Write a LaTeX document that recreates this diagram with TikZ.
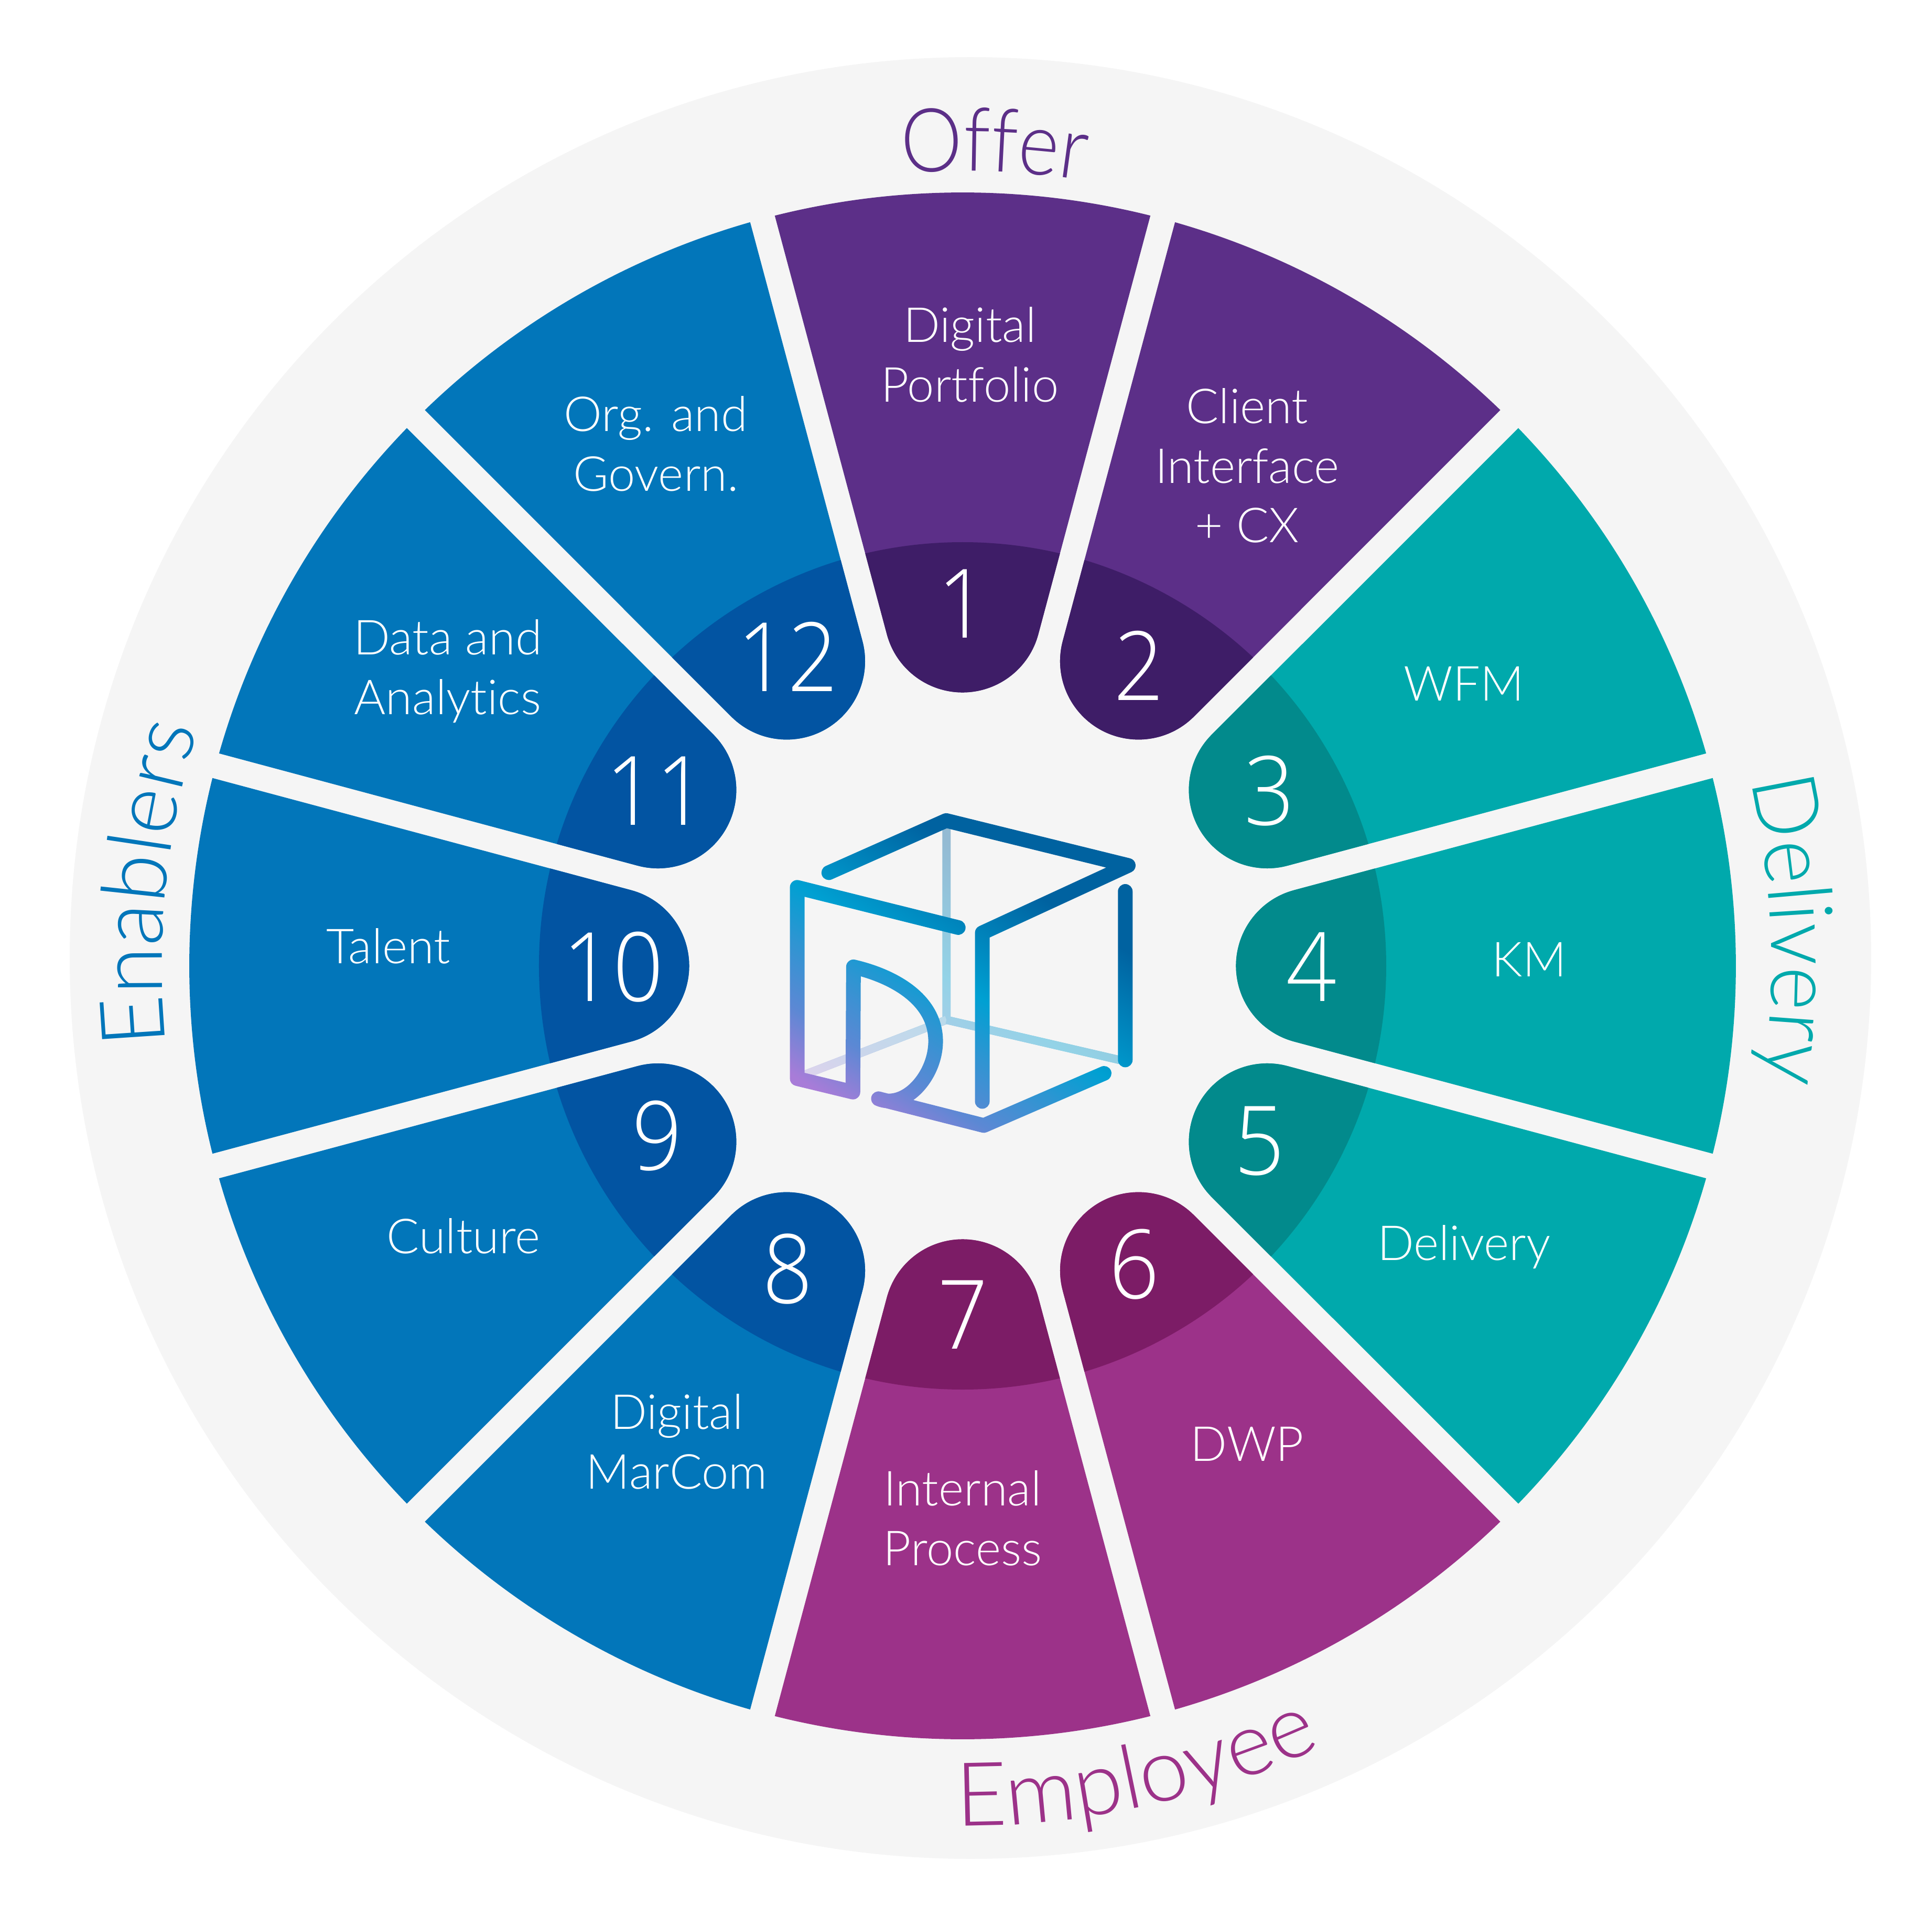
\documentclass[tikz,border=0pt]{standalone}
\usepackage{fontspec}
\setmainfont{Lato}[UprightFont=* Light,Ligatures=NoCommon]
\newfontfamily\numfamily{Open Sans}[UprightFont=* Light,FakeStretch=0.92]
\usetikzlibrary{decorations.text,fadings}
\definecolor{ringgray}{HTML}{F5F5F5}
\definecolor{offercol}{HTML}{5C2F88}
\definecolor{offerdark}{HTML}{3E1D67}
\definecolor{deliverycol}{HTML}{00A9AC}
\definecolor{deliverydark}{HTML}{028A8C}
\definecolor{employeecol}{HTML}{9C3289}
\definecolor{employeedark}{HTML}{7C1C66}
\definecolor{enablerscol}{HTML}{0276BA}
\definecolor{enablersdark}{HTML}{0254A2}
\definecolor{cubeviolet}{HTML}{A87CD8}
\definecolor{cubelilac}{HTML}{5C88D4}
\definecolor{cubeblue}{HTML}{2E95D2}
\definecolor{cubecyan}{HTML}{00A0D2}
\definecolor{cubenavy}{HTML}{0062A0}
\pgfdeclareverticalshading{cubeshade}{100bp}{color(0bp)=(cubeviolet);color(25.7bp)=(cubeviolet);color(33.3bp)=(cubelilac);color(41bp)=(cubeblue);color(47.6bp)=(cubecyan);color(63.2bp)=(cubenavy);color(100bp)=(cubenavy)}
\newcommand{\slicepath}{(14.308,3.582) -- (6.323,1.444) arc[start angle=105,end angle=255,radius=1.495] -- (14.308,-3.582) arc[start angle=-14.05,end angle=14.05,radius=14.75] -- cycle}
\newcommand{\catfont}{\fontsize{48}{48}\selectfont}
\tikzset{
  slicelabel/.style={text=white,align=center,font=\fontsize{26.2}{32.4}\selectfont},
  numlabel/.style={text=white,font=\numfamily\fontsize{52}{52}\selectfont},
  cubefront/.style={line width=0.28cm,line cap=round,line join=round},
  cubeback/.style={line width=0.155cm,transparent!60}
}
\begin{tikzfadingfrompicture}[name=cubefade]
  \path (-3.6,-3.6) rectangle (3.6,3.6);
  \draw[cubeback] (-0.307,2.772) -- (-0.307,-1.03);
  \draw[cubeback,transparent!72] (-3.0,-2.07) -- (-0.307,-1.03);
  \draw[cubeback] (-0.307,-1.03) -- (3.103,-1.82);
  \draw[cubefront,transparent!0] (-2.552,1.777) -- (-0.313,2.772) -- (3.16,1.915) -- (0.376,0.63) -- (0.376,-2.585);
  \draw[cubefront,transparent!0] (3.103,1.42) -- (3.103,-1.794);
  \draw[cubefront,transparent!0] (-0.083,0.731) -- (-3.154,1.497) -- (-3.154,-2.15) -- (-2.092,-2.407) -- (-2.081,-0.019) .. controls (-1.3,-0.2) and (-0.514,-0.65) .. (-0.514,-1.437) .. controls (-0.514,-2.1) and (-1.1,-2.75) .. (-1.605,-2.534) -- (0.405,-3.044) -- (2.70,-2.05);
\end{tikzfadingfrompicture}
\begin{document}
\begin{tikzpicture}
  \useasboundingbox (-18.36,-18.11) rectangle (18.49,18.42);
  \fill[ringgray] (0.15,0.15) circle (17.18);
  \foreach \a/\lc/\dc in {90/offercol/offerdark,60/offercol/offerdark,30/deliverycol/deliverydark,0/deliverycol/deliverydark,-30/deliverycol/deliverydark,-60/employeecol/employeedark,-90/employeecol/employeedark,-120/enablerscol/enablersdark,-150/enablerscol/enablersdark,180/enablerscol/enablersdark,150/enablerscol/enablersdark,120/enablerscol/enablersdark}
  {
    \begin{scope}[rotate=\a]
      \fill[\lc] \slicepath;
      \clip \slicepath;
      \fill[\dc] (0,0) circle (8.08);
    \end{scope}
  }
  \foreach \n/\x/\y in {1/0/6.91,2/3.36/5.73,3/5.85/3.34,4/6.65/-0.02,5/5.66/-3.34,6/3.27/-5.69,7/0/-6.65,8/-3.34/-5.78,9/-5.83/-3.24,10/-6.67/-0.02,11/-5.85/3.34,12/-3.34/5.9}
    \node[numlabel] (num\n) at (\x,\y) {\n};
  \node[slicelabel] (portfolio) at (0.14,11.66) {Digital\\Portfolio};
  \node[slicelabel] (client) at (5.43,9.54) {Client\\Interface\\+ CX};
  \node[slicelabel] (wfm) at (9.56,5.38) {WFM};
  \node[slicelabel] (km) at (10.81,0.12) {KM};
  \node[slicelabel] (delivery) at (9.56,-5.36) {Delivery};
  \node[slicelabel] (dwp) at (5.43,-9.12) {DWP};
  \node[slicelabel] (process) at (0,-10.53) {Internal\\Process};
  \node[slicelabel] (marcom) at (-5.45,-9.07) {Digital\\MarCom};
  \node[slicelabel] (culture) at (-9.52,-5.15) {Culture};
  \node[slicelabel] (talent) at (-10.95,0.38) {Talent};
  \node[slicelabel] (analytics) at (-9.82,5.62) {Data and\\Analytics};
  \node[slicelabel] (govern) at (-5.85,9.96) {Org. and\\Govern.};
  \path[decorate,decoration={text along path,text align=center,text={|\catfont\addfontfeature{FakeStretch=0.88}\color{offercol}|Offer}}] (97:15.16) arc[start angle=97,end angle=78.6,radius=15.16];
  \path[decorate,decoration={text along path,text align=center,text={|\catfont\addfontfeature{FakeStretch=0.95}\color{deliverycol}|Delivery}}] (13.5:15.43) arc[start angle=13.5,end angle=-8.5,radius=15.43];
  \path[decorate,decoration={text along path,text align=center,text={|\catfont\addfontfeature{FakeStretch=0.98}\color{enablerscol}|Enablers}}] (185:15.27) arc[start angle=185,end angle=163.4,radius=15.27];
  \path[decorate,decoration={text along path,text align=center,text={|\catfont\color{employeecol}|Employee}}] (270:16.4) arc[start angle=270,end angle=294.3,radius=16.4];
  \shade[shading=cubeshade,shading angle=-32,path fading=cubefade,fit fading=false] (-3.6,-3.6) rectangle (3.6,3.6);
\end{tikzpicture}
\end{document}
